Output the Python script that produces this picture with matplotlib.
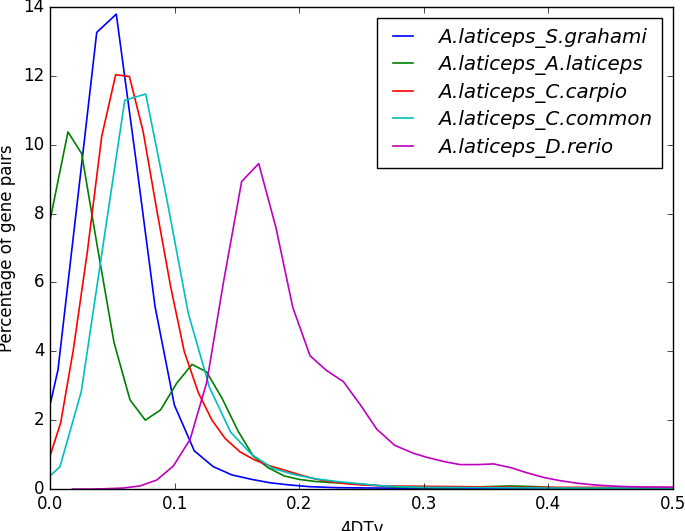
import matplotlib
matplotlib.use("Agg")
import matplotlib.pyplot as plt

plt.style.use("classic")

labels = ["A.laticeps_S.grahami", "A.laticeps_A.laticeps", "A.laticeps_C.carpio",
          "A.laticeps_C.common", "A.laticeps_D.rerio"]
colors = ["b", "g", "r", "c", "m"]

blue_x = [0.0, 0.0064, 0.022, 0.0375, 0.0532, 0.0688, 0.0843, 0.0998, 0.1158, 0.131, 0.146,
          0.162, 0.177, 0.192, 0.208, 0.23, 0.26, 0.3, 0.35, 0.4, 0.45, 0.5]
blue_y = [2.44, 3.46, 8.36, 13.26, 13.79, 9.6, 5.3, 2.44, 1.11, 0.65, 0.41,
          0.28, 0.18, 0.12, 0.07, 0.04, 0.03, 0.02, 0.02, 0.02, 0.02, 0.02]

green_x = [0.0, 0.0144, 0.0254, 0.0377, 0.0514, 0.0642, 0.0765, 0.0888, 0.1016, 0.114, 0.1257,
           0.138, 0.151, 0.163, 0.175, 0.188, 0.200, 0.213, 0.225, 0.238, 0.25, 0.263, 0.275,
           0.3, 0.325, 0.35, 0.37, 0.39, 0.41, 0.45, 0.5]
green_y = [7.8, 10.37, 9.74, 7.1, 4.25, 2.59, 2.0, 2.3, 3.07, 3.62, 3.4,
           2.64, 1.68, 0.96, 0.62, 0.38, 0.28, 0.22, 0.19, 0.17, 0.14, 0.1, 0.06,
           0.04, 0.04, 0.07, 0.09, 0.07, 0.03, 0.02, 0.02]

red_x = [0.0, 0.0086, 0.0187, 0.03, 0.0415, 0.0527, 0.0637, 0.0747, 0.0857, 0.0967, 0.1077,
         0.119, 0.130, 0.1405, 0.1525, 0.1645, 0.176, 0.188, 0.2, 0.212, 0.224, 0.236, 0.25,
         0.27, 0.3, 0.33, 0.38, 0.45, 0.5]
red_y = [0.96, 1.93, 4.04, 6.9, 10.24, 12.03, 11.98, 10.39, 8.1, 5.9, 4.0,
         2.8, 2.0, 1.47, 1.08, 0.84, 0.68, 0.55, 0.42, 0.3, 0.22, 0.16, 0.12,
         0.09, 0.08, 0.07, 0.05, 0.05, 0.04]

cyan_x = [0.0, 0.008, 0.0251, 0.0425, 0.06, 0.0768, 0.094, 0.111, 0.128, 0.145, 0.162,
          0.179, 0.196, 0.213, 0.23, 0.247, 0.264, 0.28, 0.3, 0.35, 0.4, 0.45, 0.5]
cyan_y = [0.38, 0.65, 2.83, 7.06, 11.29, 11.47, 8.37, 5.1, 2.95, 1.65, 1.0,
          0.6, 0.42, 0.3, 0.22, 0.16, 0.1, 0.07, 0.05, 0.04, 0.03, 0.03, 0.03]

mag_x = [0.018, 0.032, 0.045, 0.059, 0.0722, 0.0856, 0.099, 0.1124, 0.1258, 0.1392, 0.1538,
         0.1675, 0.1814, 0.1948, 0.2087, 0.222, 0.2354, 0.249, 0.2622, 0.2766, 0.2916, 0.3025,
         0.316, 0.329, 0.343, 0.356, 0.370, 0.383, 0.397, 0.410, 0.423, 0.437, 0.450, 0.464,
         0.477, 0.490, 0.504]
mag_y = [0.0, 0.0, 0.01, 0.03, 0.09, 0.26, 0.67, 1.44, 3.1, 6.0, 8.93,
         9.45, 7.58, 5.28, 3.87, 3.44, 3.12, 2.45, 1.74, 1.27, 1.04, 0.92,
         0.8, 0.71, 0.71, 0.73, 0.62, 0.47, 0.33, 0.24, 0.17, 0.12, 0.09, 0.07,
         0.06, 0.06, 0.05]

series_x = [blue_x, green_x, red_x, cyan_x, mag_x]
series_y = [blue_y, green_y, red_y, cyan_y, mag_y]

xticks = [0.0, 0.1, 0.2, 0.3, 0.4, 0.5]
yticks = [0, 2, 4, 6, 8, 10, 12, 14]

fig = plt.figure(figsize=(6.85, 5.31), dpi=100)
fig.patch.set_facecolor("white")
ax = fig.add_axes([0.073, 0.079, 0.9095, 0.908])

for xs, ys, c, lab in zip(series_x, series_y, colors, labels):
    ax.plot(xs, ys, color=c, lw=1.2, label=lab)

ax.set_xlim(0, 0.5)
ax.set_ylim(0, 14)
ax.set_xticks(xticks)
ax.set_yticks(yticks)
ax.set_xticklabels(["%.1f" % t for t in xticks])
ax.set_yticklabels([str(t) for t in yticks])
ax.tick_params(labelsize=12)
ax.set_xlabel("4DTv", fontsize=12)
ax.set_ylabel("Percentage of gene pairs", fontsize=12)

leg = ax.legend(loc="upper right", prop={"style": "italic", "size": 14.3},
                handlelength=1.6, handletextpad=0.95, borderpad=0.5,
                borderaxespad=0.55, labelspacing=0.38)

fig.savefig("out.png", dpi=100, facecolor="white")
